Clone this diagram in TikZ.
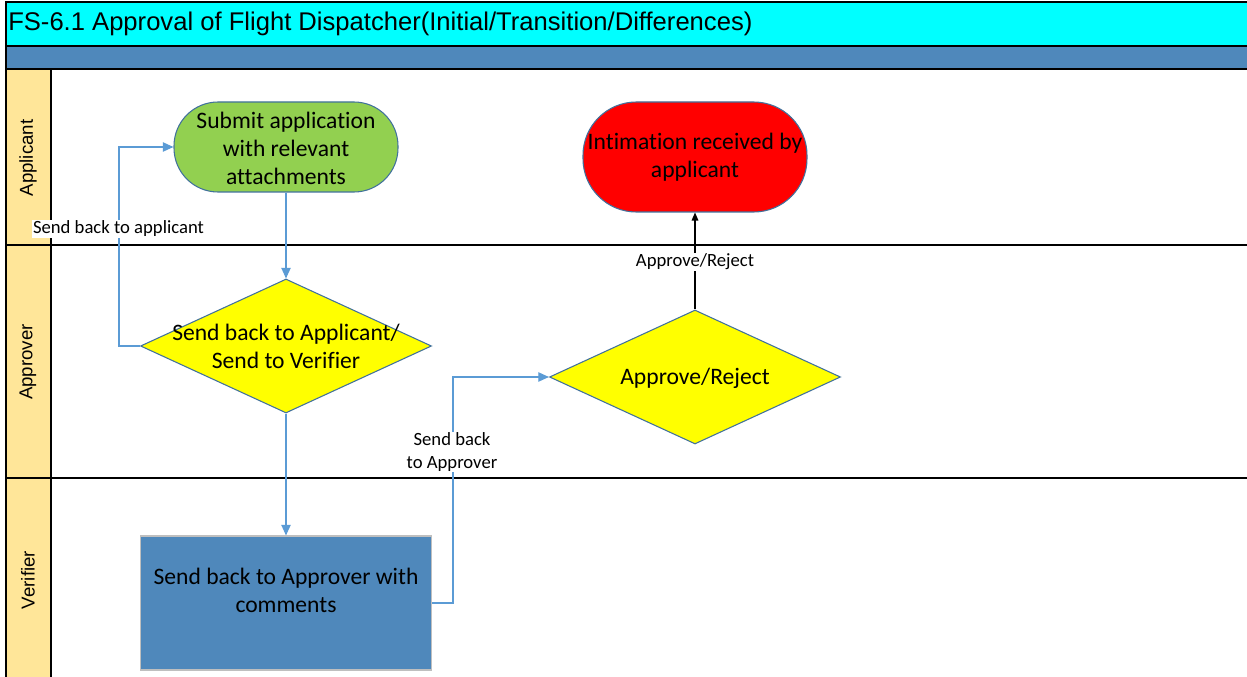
\documentclass[tikz,border=0pt]{standalone}
\usepackage{fontspec}
\setmainfont{Carlito}[Ligatures={NoCommon}]
\newfontfamily\arialfont{Liberation Sans}
\usetikzlibrary{shapes.geometric,arrows.meta}
\definecolor{titlecyan}{HTML}{00FFFF}
\definecolor{bandblue}{HTML}{4F88BB}
\definecolor{lanefill}{HTML}{FFE699}
\definecolor{termgreen}{HTML}{92D050}
\definecolor{termred}{HTML}{FF0000}
\definecolor{decyellow}{HTML}{FFFF00}
\definecolor{shapeborder}{HTML}{41719C}
\definecolor{connblue}{HTML}{5B9BD5}
\begin{document}
\begin{tikzpicture}[x=0.75pt,y=-0.75pt,
  frameline/.style={draw=black,line width=0.9pt},
  lanelabel/.style={font=\arialfont\fontsize{14}{16}\selectfont,rotate=90,anchor=center},
  terminal/.style={draw=shapeborder,line width=0.8pt,minimum width=168pt,inner sep=0pt},
  decision/.style={diamond,draw=shapeborder,line width=0.8pt,fill=decyellow,minimum width=218.25pt,minimum height=100.5pt,inner sep=0pt,aspect=2.17},
  process/.style={draw=black!25,line width=0.8pt,fill=bandblue,minimum width=218.25pt,minimum height=100.5pt,inner sep=0pt},
  shapetext/.style={font=\fontsize{17.7}{21}\selectfont,align=center,inner sep=0pt},
  edgelabel/.style={font=\fontsize{14}{17}\selectfont,align=center,fill=white,inner sep=0.5pt},
  conn/.style={draw=connblue,line width=1pt,-{Triangle[length=8pt,width=7pt]}},
  blackconn/.style={draw=black,line width=0.8pt,-{Triangle[length=6pt,width=5pt]}}
]
\useasboundingbox (0,0) rectangle (1247,677);
\fill[white] (0,0) rectangle (1247,677);
% title and band
\fill[titlecyan] (6,2) rectangle (1247,46);
\fill[bandblue] (6,46) rectangle (1247,69);
\fill[lanefill] (6,69) rectangle (51,680);
\draw[frameline] (1247,2) -- (6,2) -- (6,680);
\draw[frameline] (6,46) -- (1247,46);
\draw[frameline] (6,69) -- (1247,69);
\draw[frameline] (6,245) -- (1247,245);
\draw[frameline] (6,478) -- (1247,478);
\draw[frameline] (51,69) -- (51,680);
\node[anchor=west,font=\arialfont\fontsize{19.2}{22}\selectfont,inner sep=0pt] (title) at (8,24) {FS-6.1 Approval of Flight Dispatcher(Initial/Transition/Differences)};
% lane labels
\node[lanelabel] (lapp) at (28,158) {Applicant};
\node[lanelabel] (lappr) at (28,362) {Approver};
\node[lanelabel] (lver) at (28,580) {Verifier};
% shapes
\node[terminal,fill=termgreen,minimum height=67.5pt,rounded corners=33pt] (green) at (286,147) {};
\node[shapetext] (greentext) at (286,148) {Submit application\\with relevant\\attachments};
\node[terminal,fill=termred,minimum height=82.5pt,rounded corners=40pt] (red) at (695,157) {};
\node[shapetext] (redtext) at (695,157) {Intimation received by\\applicant};
\node[decision] (d1) at (286,346) {};
\node[shapetext] (d1text) at (286,346) {Send back to Applicant/\\Send to Verifier};
\node[decision] (d2) at (695,377) {};
\node[shapetext] (d2text) at (695,378) {Approve/Reject};
\node[process] (rect) at (286,603) {};
\node[shapetext] (recttext) at (286,590) {Send back to Approver with\\comments};
% connectors
\draw[conn] (green.south) -- (d1.north);
\draw[conn] (d1.west) -- ++(-21,0) |- (green.west);
\draw[conn] (d1.south) -- (rect.north);
\draw[conn] (rect.east) -- ++(21,0) |- (d2.west);
\draw[blackconn] (d2.north) -- (red.south);
% labels
\node[edgelabel] (lab1) at (118.5,229) {Send back to applicant};
\node[edgelabel] (lab2) at (452,452) {Send back\\to Approver};
\node[edgelabel] (lab3) at (695,262) {Approve/Reject};
\end{tikzpicture}
\end{document}
